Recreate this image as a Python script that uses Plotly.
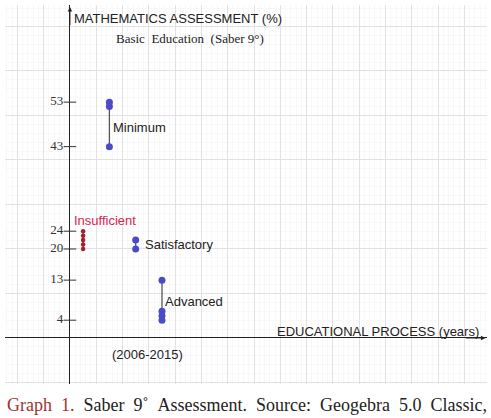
import plotly.graph_objects as go

# ---- data ----
categories = ["Insufficient", "Minimum", "Satisfactory", "Advanced"]
cat_x = [0.5, 1.5, 2.5, 3.5]
cat_values = [
    [24, 23, 22, 21, 20],
    [53, 52, 43],
    [22, 20],
    [13, 6, 5, 4],
]
y_ticks = [4, 13, 20, 24, 43, 53]
y_tick_labels = ["4", "13", "20", "24", "43", "53"]

# ---- styles ----
BLUE = "#4B4BC6"
RED_DOT = "#A3202E"
RED_TXT = "#D91E4E"
SANS = "Liberation Sans, Arial, sans-serif"
SERIF = "Liberation Serif, Times New Roman, serif"

X_RANGE = [-2.47, 15.86]
Y_RANGE = [-10.34, 74.83]

fig = go.Figure()

for name, x, vals in zip(categories, cat_x, cat_values):
    is_red = name == "Insufficient"
    fig.add_trace(go.Scatter(
        x=[x, x], y=[min(vals), max(vals)], mode="lines",
        line=dict(color=RED_DOT if is_red else "#555555", width=1.3),
        hoverinfo="skip", showlegend=False))
    fig.add_trace(go.Scatter(
        x=[x] * len(vals), y=vals, mode="markers",
        marker=dict(color=RED_DOT if is_red else BLUE,
                    size=4.5 if is_red else 7, line=dict(width=0)),
        name=name, showlegend=False))

# y tick marks and labels drawn on the y-axis (at x = 0)
fig.add_trace(go.Scatter(
    x=[0] * len(y_ticks), y=y_ticks, mode="markers+text",
    marker=dict(symbol="line-ew", size=9, line=dict(color="#333333", width=1)),
    text=y_tick_labels, textposition="middle left",
    textfont=dict(family=SERIF, size=13, color="#333333"),
    hoverinfo="skip", showlegend=False))

annotations = []
# category labels
label_pos = {
    "Insufficient": (0.08, 26.3),
    "Minimum": (1.55, 47.2),
    "Satisfactory": (2.78, 21.1),
    "Advanced": (3.55, 8.1),
}
for name in categories:
    lx, ly = label_pos[name]
    annotations.append(dict(
        x=lx, y=ly, xref="x", yref="y", text=name, showarrow=False,
        xanchor="left", yanchor="middle",
        font=dict(family=SANS, size=13,
                  color=RED_TXT if name == "Insufficient" else "#222222")))

annotations += [
    dict(x=0.08, y=71.9, xref="x", yref="y", text="MATHEMATICS ASSESSMENT (%)",
         showarrow=False, xanchor="left", yanchor="middle",
         font=dict(family=SANS, size=13, color="#222222")),
    dict(x=4.56, y=67.2, xref="x", yref="y",
         text="Basic&nbsp;&nbsp;Education&nbsp;&nbsp;(Saber 9°)",
         showarrow=False, xanchor="center", yanchor="middle",
         font=dict(family=SERIF, size=13, color="#222222")),
    dict(x=15.63, y=1.35, xref="x", yref="y", text="EDUCATIONAL PROCESS (years)",
         showarrow=False, xanchor="right", yanchor="middle",
         font=dict(family=SANS, size=13, color="#222222")),
    dict(x=2.93, y=-3.6, xref="x", yref="y", text="(2006-2015)",
         showarrow=False, xanchor="center", yanchor="middle",
         font=dict(family=SANS, size=13, color="#222222")),
    # axis arrows
    dict(x=0, y=74.4, xref="x", yref="y", ax=0, ay=70, axref="x", ayref="y",
         text="", showarrow=True, arrowhead=2, arrowsize=0.9, arrowwidth=1,
         arrowcolor="#222222"),
    dict(x=15.8, y=0, xref="x", yref="y", ax=15.0, ay=0, axref="x", ayref="y",
         text="", showarrow=True, arrowhead=2, arrowsize=0.9, arrowwidth=1,
         arrowcolor="#222222"),
    # caption
    dict(x=-0.001, y=-0.056, xref="paper", yref="paper",
         text="<span style='color:#9B3535'>Graph&nbsp;&nbsp;1.</span>&nbsp;&nbsp;Saber&nbsp;&nbsp;9˚&nbsp;&nbsp;Assessment.&nbsp;&nbsp;Source:&nbsp;&nbsp;Geogebra&nbsp;&nbsp;5.0&nbsp;&nbsp;Classic,",
         showarrow=False, xanchor="left", yanchor="middle",
         font=dict(family=SERIF, size=18, color="#222222")),
]

fig.update_layout(
    width=491, height=418,
    margin=dict(l=5, r=4, t=5, b=34),
    paper_bgcolor="white", plot_bgcolor="white",
    showlegend=False,
    annotations=annotations,
    xaxis=dict(range=X_RANGE, dtick=1, tick0=0, showticklabels=False,
               showgrid=True, gridcolor="#e2e2e2", gridwidth=1,
               minor=dict(dtick=0.2, showgrid=True, gridcolor="#f8f8f8"),
               zeroline=True, zerolinecolor="#222222", zerolinewidth=1.2,
               showline=False, ticks="", fixedrange=True),
    yaxis=dict(range=Y_RANGE, dtick=10, tick0=0, showticklabels=False,
               showgrid=True, gridcolor="#e2e2e2", gridwidth=1,
               minor=dict(dtick=2, showgrid=True, gridcolor="#f8f8f8"),
               zeroline=True, zerolinecolor="#222222", zerolinewidth=1.2,
               showline=False, ticks="", fixedrange=True),
)

fig.write_html("out.html")
